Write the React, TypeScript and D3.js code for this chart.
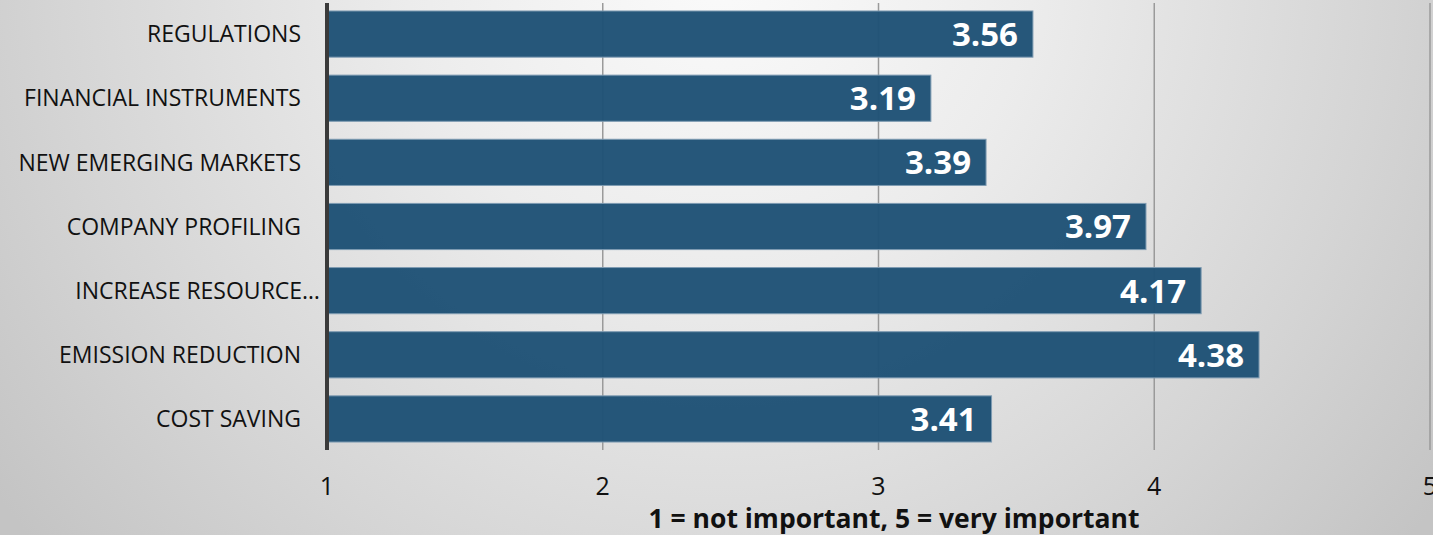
import React, { useEffect } from "react";
import * as d3 from "d3";

const categories = [
  "REGULATIONS",
  "FINANCIAL INSTRUMENTS",
  "NEW EMERGING MARKETS",
  "COMPANY PROFILING",
  "INCREASE RESOURCE…",
  "EMISSION REDUCTION",
  "COST SAVING",
];
const values = [3.56, 3.19, 3.39, 3.97, 4.17, 4.38, 3.41];
const xTicks = [1, 2, 3, 4, 5];
const axisTitle = "1 = not important, 5 = very important";

const W = 1433;
const H = 535;

export default function App() {
  useEffect(() => {
    document.body.style.margin = "0";
  }, []);

  const x = d3.scaleLinear().domain([1, 5]).range([327, 1430]);
  const y = d3
    .scaleBand<string>()
    .domain(categories)
    .range([2, 451])
    .paddingInner(0.28)
    .paddingOuter(0.14);

  const font = "'Open Sans', 'Liberation Sans', sans-serif";

  return (
    <svg
      width={W}
      height={H}
      style={{ position: "absolute", left: 0, top: 0, display: "block" }}
    >
      <defs>
        <radialGradient
          id="bg"
          cx={720}
          cy={-40}
          r={900}
          gradientUnits="userSpaceOnUse"
        >
          <stop offset="0" stopColor="#fbfbfb" />
          <stop offset="0.35" stopColor="#ececec" />
          <stop offset="0.75" stopColor="#d4d4d4" />
          <stop offset="1" stopColor="#c4c4c4" />
        </radialGradient>
      </defs>
      <rect x={0} y={0} width={W} height={H} fill="url(#bg)" />

      {/* gridlines */}
      {xTicks
        .filter((t) => t !== 1)
        .map((t) => (
          <line
            key={"g" + t}
            x1={x(t)}
            x2={x(t)}
            y1={3}
            y2={450}
            stroke="#9a9a9a"
            strokeWidth={1.5}
          />
        ))}

      {/* bars */}
      {categories.map((c, i) => (
        <g key={c}>
          <rect
            x={x(1)}
            y={y(c)!}
            width={x(values[i]) - x(1)}
            height={y.bandwidth()}
            fill="#1f5276"
            fillOpacity={0.97}
            stroke="#7e9bb2"
            strokeWidth={1}
          />
          <text
            x={x(values[i]) - 15}
            y={y(c)! + y.bandwidth() / 2}
            dy="0.36em"
            textAnchor="end"
            fill="#ffffff"
            fontFamily={font}
            fontWeight={700}
            fontSize={33}
          >
            {values[i].toFixed(2)}
          </text>
          <text
            x={c.endsWith("…") ? 320 : 301}
            y={y(c)! + y.bandwidth() / 2}
            dy="0.36em"
            textAnchor="end"
            fill="#111111"
            fontFamily={font}
            fontSize={23}
          >
            {c}
          </text>
        </g>
      ))}

      {/* left axis line */}
      <line
        x1={x(1)}
        x2={x(1)}
        y1={3}
        y2={450}
        stroke="#3a3a3a"
        strokeWidth={4}
      />

      {/* tick labels */}
      {xTicks.map((t) => (
        <text
          key={"t" + t}
          x={x(t)}
          y={495}
          textAnchor="middle"
          fill="#111111"
          fontFamily={font}
          fontSize={25}
        >
          {t}
        </text>
      ))}

      <text
        x={894}
        y={528}
        textAnchor="middle"
        fill="#111111"
        fontFamily={font}
        fontWeight={700}
        fontSize={26.5}
      >
        {axisTitle}
      </text>
    </svg>
  );
}
